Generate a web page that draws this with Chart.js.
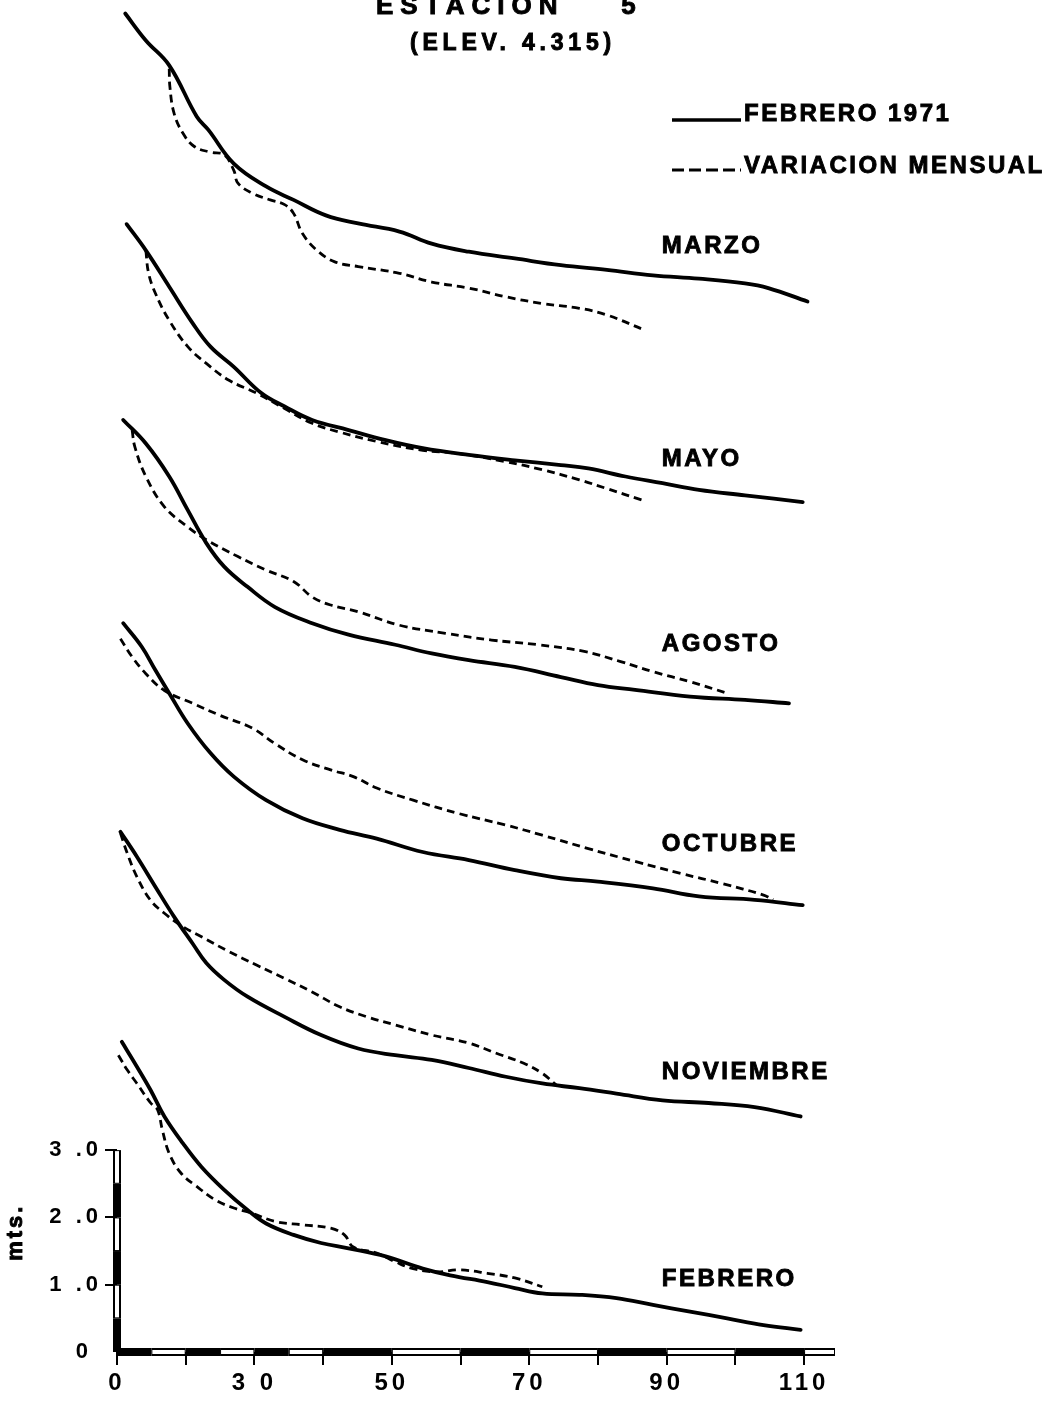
<!DOCTYPE html>
<html>
<head>
<meta charset="utf-8">
<title>Estación 5</title>
<script src="https://cdn.jsdelivr.net/npm/chart.js@4/dist/chart.umd.min.js"></script>
<style>
  html, body { margin: 0; padding: 0; background: #fff; }
  #wrap { width: 1059px; height: 1401px; }
</style>
</head>
<body>
<div id="wrap"><canvas id="perfiles" width="1059" height="1401"></canvas></div>
<script>
// distancias (m) en el eje x: el origen del perfil cae en 10
// alturas relativas (mts.) de cada perfil, antes de sumarle su desplazamiento
const months = ['MARZO', 'MAYO', 'AGOSTO', 'OCTUBRE', 'NOVIEMBRE', 'FEBRERO'];
const offsets = [15, 12, 9, 6, 3, 0];

// linea continua: FEBRERO 1971 (repetida en cada perfil)
const marzoRef = [[11.2,4.89],[14.2,4.49],[17.6,4.12],[21.6,3.36],[23.3,3.16],[27.0,2.66],[31.7,2.32],[35.7,2.12],[40.4,1.89],[45.1,1.77],[51.1,1.65],[55.8,1.47],[61.2,1.35],[67.9,1.25],[74.6,1.15],[81.3,1.08],[88.0,1.00],[94.7,0.95],[101.4,0.88],[104.8,0.81],[110.5,0.61]];
const mayoRef = [[11.4,4.76],[14.2,4.37],[17.6,3.83],[21.0,3.29],[23.6,2.94],[27.0,2.64],[31.0,2.25],[34.4,2.05],[38.4,1.85],[43.7,1.70],[49.1,1.55],[54.5,1.43],[61.2,1.33],[67.9,1.25],[74.6,1.18],[78.6,1.13],[84.0,1.01],[89.4,0.91],[94.7,0.81],[101.4,0.73],[109.8,0.63]];
const agostoRef = [[10.9,4.85],[14.2,4.50],[17.6,4.01],[20.3,3.51],[23.0,3.02],[25.6,2.67],[29.0,2.37],[33.0,2.07],[38.4,1.83],[43.7,1.66],[50.5,1.51],[55.8,1.38],[61.2,1.28],[67.9,1.18],[74.6,1.03],[80.0,0.91],[85.4,0.84],[93.4,0.74],[101.4,0.69],[107.8,0.64]];
const octubreRef = [[10.9,4.83],[13.6,4.48],[15.6,4.13],[17.6,3.79],[20.3,3.34],[23.6,2.90],[27.0,2.55],[31.7,2.20],[37.0,1.93],[42.4,1.76],[47.8,1.63],[54.5,1.43],[61.2,1.31],[67.9,1.16],[74.6,1.04],[80.0,0.99],[88.0,0.89],[94.7,0.77],[102.8,0.72],[109.8,0.64]];
const noviembreRef = [[10.5,4.73],[12.9,4.36],[15.6,3.91],[18.3,3.47],[21.0,3.07],[23.0,2.78],[25.6,2.53],[29.0,2.28],[34.4,1.98],[39.7,1.71],[45.1,1.51],[50.5,1.41],[55.8,1.34],[61.2,1.22],[66.6,1.09],[71.9,0.99],[77.3,0.92],[82.7,0.84],[89.4,0.74],[96.1,0.70],[102.8,0.64],[109.5,0.50]];
const febreroRef = [[10.7,4.61],[12.9,4.24],[14.9,3.89],[16.9,3.50],[19.6,3.10],[22.3,2.75],[25.6,2.41],[29.0,2.11],[31.7,1.91],[35.7,1.74],[39.7,1.62],[43.7,1.54],[49.1,1.42],[54.5,1.24],[58.5,1.14],[63.9,1.04],[67.9,0.95],[71.9,0.87],[77.3,0.85],[82.7,0.80],[88.0,0.70],[93.4,0.60],[98.8,0.50],[104.1,0.40],[109.5,0.33]];

// linea de trazos: variacion mensual
const marzoVar = [[17.6,4.07],[17.7,3.80],[18.3,3.41],[19.6,3.11],[21.3,2.91],[23.6,2.83],[25.6,2.79],[27.0,2.56],[27.6,2.37],[29.7,2.22],[32.3,2.12],[34.4,2.05],[35.7,1.92],[37.0,1.62],[39.1,1.37],[41.7,1.20],[45.1,1.13],[51.1,1.03],[55.8,0.90],[61.2,0.81],[66.6,0.68],[71.9,0.58],[77.3,0.51],[81.3,0.41],[86.7,0.19]];
const mayoVar = [[14.2,4.37],[14.6,4.03],[15.6,3.73],[17.6,3.33],[20.3,2.94],[23.0,2.69],[26.3,2.44],[30.3,2.25],[34.4,2.02],[38.4,1.80],[42.4,1.67],[47.8,1.53],[54.5,1.40],[59.8,1.35],[66.6,1.23],[71.9,1.11],[77.3,0.96],[81.3,0.83],[86.4,0.66]];
const agostoVar = [[12.2,4.70],[12.6,4.45],[14.2,4.01],[16.9,3.56],[20.3,3.26],[23.0,3.07],[27.6,2.82],[31.7,2.62],[35.7,2.45],[38.4,2.22],[41.1,2.10],[45.1,2.00],[51.1,1.80],[57.8,1.68],[64.5,1.58],[71.3,1.51],[78.0,1.41],[83.3,1.26],[88.0,1.11],[93.4,0.96],[98.8,0.79]];
const octubreVar = [[10.5,4.60],[12.2,4.33],[14.2,4.08],[16.9,3.83],[21.0,3.64],[25.0,3.46],[29.7,3.27],[33.0,3.04],[37.0,2.80],[41.1,2.65],[44.4,2.55],[47.8,2.38],[53.1,2.20],[59.8,2.00],[66.6,1.83],[71.9,1.68],[78.6,1.48],[85.4,1.29],[92.1,1.11],[98.1,0.96],[104.1,0.79],[105.5,0.72]];
const noviembreVar = [[10.5,4.71],[11.5,4.41],[12.9,4.06],[14.9,3.71],[16.9,3.52],[19.6,3.32],[22.3,3.17],[26.3,2.95],[30.3,2.75],[34.4,2.55],[38.4,2.35],[42.4,2.13],[46.4,1.98],[50.5,1.86],[55.8,1.71],[61.2,1.59],[65.2,1.44],[69.2,1.29],[71.9,1.14],[73.9,0.97]];
const febreroVar = [[10.2,4.41],[11.5,4.19],[12.9,3.99],[14.9,3.70],[15.9,3.60],[16.6,3.30],[17.6,2.95],[19.3,2.66],[21.6,2.46],[24.3,2.26],[27.0,2.14],[29.7,2.06],[33.0,1.94],[37.0,1.89],[41.1,1.84],[43.1,1.74],[44.4,1.56],[47.8,1.47],[50.5,1.34],[53.1,1.24],[56.5,1.19],[59.8,1.22],[63.9,1.17],[67.9,1.10],[71.9,0.97]];

const refCurves = [marzoRef, mayoRef, agostoRef, octubreRef, noviembreRef, febreroRef];
const varCurves = [marzoVar, mayoVar, agostoVar, octubreVar, noviembreVar, febreroVar];

// ejes
const xTickValues = [10, 20, 30, 40, 50, 60, 70, 80, 90, 100, 110];
const xTickText = ['0', '', '3 0', '', '50', '', '70', '', '90', '', '110'];
const yTickValues = [0, 1, 2, 3];
const yTickText = ['0 ', '1 .0', '2 .0', '3 .0'];
const legendLabels = ['FEBRERO 1971', 'VARIACION MENSUAL'];

const FONT = '"Liberation Sans", Arial, sans-serif';

function toPoints(curve, off) {
    return curve.map(function(p) { return { x: p[0], y: p[1] + off }; });
}

var datasets = [];
for (var i = 0; i < months.length; i++) {
    datasets.push({
        label: months[i] + ' - ' + legendLabels[1],
        data: toPoints(varCurves[i], offsets[i]),
        borderColor: '#000',
        borderWidth: 2.8,
        borderDash: [8, 5],
        pointRadius: 0,
        tension: 0.4,
        clip: false,
        fill: false
    });
    datasets.push({
        label: months[i] + ' - ' + legendLabels[0],
        data: toPoints(refCurves[i], offsets[i]),
        borderColor: '#000',
        borderWidth: 3.8,
        borderCapStyle: 'round',
        borderJoinStyle: 'round',
        pointRadius: 0,
        tension: 0.4,
        clip: false,
        fill: false
    });
}

// texto grueso, como el rotulado del original
function boldText(ctx, txt, px, py) {
    ctx.fillText(txt, px, py);
    ctx.strokeText(txt, px, py);
}

// barras de escala blanco / negro de los ejes, titulo, leyenda y rotulos
const axisBars = {
    id: 'axisBars',
    beforeDraw: function(chart) {
        chart.ctx.letterSpacing = '4px';   // espaciado de las etiquetas de los ejes
    },
    beforeDatasetsDraw: function(chart) {
        var ctx = chart.ctx, x = chart.scales.x, y = chart.scales.y;
        ctx.save();
        ctx.letterSpacing = '0px';
        var xb = [10, 15, 20, 25, 30, 35, 40, 50, 60, 70, 80, 90, 100, 110, 114.5];
        var yb = [0, 0.5, 1, 1.5, 2, 2.5, 3];
        var y0 = y.getPixelForValue(0), x0 = x.getPixelForValue(10);
        var h = 4;
        for (var i = 0; i < xb.length - 1; i++) {
            var a = x.getPixelForValue(xb[i]), b = x.getPixelForValue(xb[i + 1]);
            ctx.fillStyle = '#000';
            ctx.fillRect(a, y0 - h, b - a, 2 * h);
            if (i % 2 === 1) {
                ctx.fillStyle = '#fff';
                ctx.fillRect(a + 1, y0 - h + 2, b - a - 2, 2 * h - 4);
            }
        }
        for (var j = 0; j < yb.length - 1; j++) {
            var c = y.getPixelForValue(yb[j]), d = y.getPixelForValue(yb[j + 1]);
            ctx.fillStyle = '#000';
            ctx.fillRect(x0 - h, d, 2 * h, c - d);
            if (j % 2 === 1) {
                ctx.fillStyle = '#fff';
                ctx.fillRect(x0 - h + 2, d + 1, 2 * h - 4, c - d - 2);
            }
        }
        ctx.restore();
    },
    afterDraw: function(chart) {
        var ctx = chart.ctx, x = chart.scales.x, y = chart.scales.y;
        ctx.save();
        ctx.fillStyle = '#000';
        ctx.strokeStyle = '#000';
        ctx.lineWidth = 0.9;
        ctx.textBaseline = 'alphabetic';

        // titulo (cortado arriba, como en el original)
        ctx.font = 'bold 26px ' + FONT;
        ctx.letterSpacing = '7px';
        ctx.textAlign = 'left';
        boldText(ctx, 'ESTACION    5', 376, 14);
        ctx.font = 'bold 23px ' + FONT;
        ctx.letterSpacing = '4.8px';
        boldText(ctx, '(ELEV. 4.315)', 410, 50);

        // leyenda
        ctx.font = 'bold 24px ' + FONT;
        ctx.letterSpacing = '2.5px';
        ctx.textBaseline = 'middle';
        boldText(ctx, legendLabels[0], 744, 114);
        boldText(ctx, legendLabels[1], 744, 166);

        // nombre del mes de cada perfil
        var labelY = [1.43, 1.27, 1.51, 1.55, 1.16, 1.08];
        for (var i = 0; i < months.length; i++) {
            boldText(ctx, months[i], x.getPixelForValue(89.3), y.getPixelForValue(labelY[i] + offsets[i]));
        }

        ctx.lineWidth = 3.5;
        ctx.beginPath(); ctx.moveTo(672, 120); ctx.lineTo(741, 120); ctx.stroke();
        ctx.lineWidth = 3;
        ctx.setLineDash([12, 5]);
        ctx.beginPath(); ctx.moveTo(672, 170); ctx.lineTo(741, 170); ctx.stroke();
        ctx.setLineDash([]);

        // unidad del eje y
        ctx.lineWidth = 0.9;
        ctx.font = 'bold 22px ' + FONT;
        ctx.letterSpacing = '3px';
        ctx.translate(16, y.getPixelForValue(1.78));
        ctx.rotate(-Math.PI / 2);
        ctx.textAlign = 'center';
        boldText(ctx, 'mts.', 0, 0);
        ctx.restore();
    }
};

document.addEventListener('DOMContentLoaded', function() {
    new Chart(document.getElementById('perfiles'), {
        type: 'line',
        data: { datasets: datasets },
        plugins: [axisBars],
        options: {
            responsive: false,
            animation: false,
            layout: { padding: { left: 0, top: 0, right: 224, bottom: 0 } },
            plugins: { legend: { display: false }, tooltip: { enabled: false } },
            scales: {
                x: {
                    type: 'linear',
                    min: 10,
                    max: 114.5,
                    afterBuildTicks: function(axis) {
                        axis.ticks = xTickValues.map(function(v) { return { value: v }; });
                    },
                    afterFit: function(axis) { axis.height = 49; },
                    border: { display: false },
                    grid: { drawOnChartArea: false, drawTicks: true, tickLength: 13, color: '#000', lineWidth: 2 },
                    ticks: {
                        autoSkip: false,
                        maxRotation: 0,
                        padding: 4,
                        color: '#000',
                        font: { family: FONT, size: 24, weight: 'bold' },
                        callback: function(v, i) { return xTickText[i]; }
                    }
                },
                y: {
                    type: 'linear',
                    min: 0,
                    // el eje deja ~16 px arriba para la mitad de una etiqueta
                    max: 19.85,
                    afterBuildTicks: function(axis) {
                        axis.ticks = yTickValues.map(function(v) { return { value: v }; });
                    },
                    afterFit: function(axis) { axis.width = 117; },
                    border: { display: false },
                    grid: {
                        drawOnChartArea: false,
                        drawTicks: true,
                        tickLength: 12,
                        lineWidth: 2,
                        color: function(c) { return c.tick && c.tick.value === 0 ? 'rgba(0,0,0,0)' : '#000'; }
                    },
                    ticks: {
                        padding: 3,
                        color: '#000',
                        font: { family: FONT, size: 22, weight: 'bold' },
                        callback: function(v, i) { return yTickText[i]; }
                    }
                }
            }
        }
    });
});
</script>
</body>
</html>
